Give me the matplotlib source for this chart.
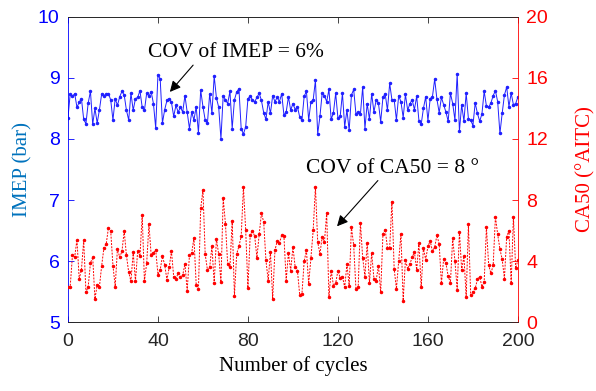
import numpy as np
import matplotlib
matplotlib.use("Agg")
import matplotlib.pyplot as plt

# IMEP per cycle (bar), cycles 0..200
imep = [
    8.34, 8.74, 8.70, 8.74, 8.52, 8.60, 8.66, 8.32, 8.25, 8.59,
    8.78, 8.24, 8.50, 8.26, 8.48, 8.74, 8.71, 8.73, 8.74, 8.64,
    8.31, 8.66, 8.55, 8.69, 8.78, 8.72, 8.47, 8.31, 8.75, 8.47,
    8.66, 8.68, 8.79, 8.52, 8.47, 8.75, 8.70, 8.77, 8.58, 8.18,
    9.05, 8.98, 8.26, 8.48, 8.63, 8.66, 8.60, 8.37, 8.55, 8.44,
    8.52, 8.44,
    8.71, 8.44, 8.17, 8.44, 8.31, 8.53, 8.10, 8.80, 8.53, 8.31,
    8.26, 8.74, 8.42, 9.03, 8.67, 8.52, 8.00, 8.71, 8.64, 8.58,
    8.78, 8.17, 8.64, 8.77, 8.82, 8.17, 8.08, 8.20, 8.66, 8.70,
    8.64, 8.61, 8.68, 8.75, 8.63, 8.43, 8.32, 8.61, 8.42, 8.71,
    8.61, 8.68, 8.61, 8.74, 8.39, 8.44, 8.69, 8.47, 8.58, 8.48,
    8.53, 8.36, 8.31, 8.70, 8.78, 8.31, 8.61, 8.64,
    8.96,
    8.08, 8.37, 8.75, 8.71, 8.61, 8.81, 8.32, 8.43, 8.75, 8.34,
    8.37, 8.75, 8.20, 8.47, 8.14, 8.72, 8.81, 8.41, 8.44, 8.41,
    8.85, 8.17, 8.58, 8.32, 8.74, 8.44, 8.64, 8.59, 8.28, 8.68,
    8.74, 8.47, 8.91, 8.64, 8.64, 8.31, 8.71, 8.61, 8.35, 8.73,
    8.47, 8.58, 8.64, 8.48, 8.70, 8.30, 8.24, 8.50, 8.69, 8.30,
    8.66, 8.69, 8.98,
    8.65, 8.43, 8.68, 8.56, 8.44, 8.29, 8.75, 8.58, 8.31, 9.07,
    8.13, 8.56, 8.29, 8.75, 8.33, 8.31, 8.22, 8.59, 8.42, 8.29,
    8.41, 8.78, 8.54, 8.52, 8.59, 8.71, 8.79, 8.61, 8.09, 8.42,
    8.72, 8.85, 8.53, 8.75, 8.56, 8.58, 8.69,
]

# CA50 per cycle (deg ATDC), cycles 0..200
ca50 = [
    2.29, 2.33, 4.37, 4.26, 5.41, 2.84, 3.43, 5.36, 1.96, 2.33,
    3.87, 4.26, 1.52, 2.46, 2.33, 3.71, 4.88, 5.10, 6.20, 5.98,
    3.71, 2.33, 4.81, 4.26, 4.64, 5.96, 4.37, 3.27, 2.68, 4.59,
    2.68, 4.66, 4.31, 7.01, 2.68, 3.87, 6.42, 4.37, 4.53, 4.75,
    3.12, 3.43, 4.31, 3.76, 2.77, 3.60, 4.64, 2.99, 2.84, 3.21,
    2.95, 3.07,
    3.82, 2.07, 4.37, 4.53, 5.52, 2.46, 2.18, 7.45, 8.66, 4.44,
    3.43, 3.60, 4.97, 2.55, 5.47, 4.44, 2.62, 8.11, 6.46, 3.78,
    3.60, 6.64, 1.74, 4.48, 4.97, 5.63, 8.84, 6.02, 2.24, 5.69,
    6.00, 5.63, 4.22, 5.76, 7.12, 6.57, 4.04, 2.73, 4.59, 1.52,
    4.70, 5.32, 5.19, 5.69, 5.63, 2.73, 4.53, 3.38, 4.92, 3.60,
    3.38, 1.80, 1.85, 4.00, 4.70, 2.51, 4.22, 6.02,
    8.88, 5.25, 4.48, 5.58, 5.25, 7.16, 1.63, 3.38, 2.40, 2.55,
    3.38, 2.90, 2.99, 2.29, 3.78, 2.40, 6.24, 5.03, 2.18, 2.29,
    6.51, 4.22, 2.99, 5.19, 2.55, 4.53, 2.84, 2.73, 3.71, 1.96,
    5.76, 6.07, 4.88, 4.88, 7.89, 3.49, 2.18, 4.00, 5.80, 1.41,
    4.09, 3.49, 3.82, 4.26, 4.59, 3.43, 5.19, 2.29, 4.88, 4.09,
    4.97, 5.32, 4.66,
    4.90, 5.70, 5.11, 2.54, 4.17, 3.85, 3.02, 2.58, 5.49, 4.02,
    2.14, 5.92, 3.41, 4.33, 1.66, 6.40, 1.77, 1.99, 2.21, 2.80,
    2.97, 2.32, 2.64, 6.21, 3.74, 3.19, 3.74, 6.91, 5.75, 4.79,
    4.11, 2.86, 5.60, 5.99, 2.54, 6.91, 3.52, 4.07,
]

cycles = np.arange(len(imep))

x_ticks = [0, 40, 80, 120, 160, 200]
imep_ticks = [5, 6, 7, 8, 9, 10]
ca50_ticks = [0, 4, 8, 12, 16, 20]

blue = "#0000ff"
red = "#ff0000"
gray = "#262626"
serif = ["Liberation Serif", "DejaVu Serif"]
sans = ["Liberation Sans", "DejaVu Sans"]

fig = plt.figure(figsize=(5.96, 3.91), dpi=100)
ax = fig.add_axes([0.114, 0.176, 0.755, 0.781])
ax2 = ax.twinx()

ax.plot(cycles, imep, color="#2020ff", lw=0.7, marker=".", ms=3)
ax2.plot(cycles, ca50, color=red, lw=0.7, ls="--", marker=".", ms=3, dashes=(2, 1.3))

ax.set_xlim(0, 200)
ax.set_ylim(5, 10)
ax2.set_ylim(0, 20)
ax.set_xticks(x_ticks)
ax.set_yticks(imep_ticks)
ax2.set_yticks(ca50_ticks)

for lab in ax.get_xticklabels() + ax.get_yticklabels() + ax2.get_yticklabels():
    lab.set_family(sans)
    lab.set_fontsize(14)

ax.tick_params(axis="x", direction="in", top=True, colors=gray, length=4, width=0.6, pad=8)
ax.tick_params(axis="y", direction="in", colors=blue, length=4, width=0.6, pad=6)
ax2.tick_params(axis="y", direction="in", colors=red, length=4, width=0.6, pad=6)

ax.spines["right"].set_visible(False)
ax2.spines["left"].set_visible(False)
ax.spines["left"].set_color(blue)
ax2.spines["right"].set_color(red)
for a in (ax, ax2):
    a.spines["top"].set_color(gray)
    a.spines["bottom"].set_color(gray)
    for s in a.spines.values():
        s.set_linewidth(0.6)

ax.set_xlabel("Number of cycles", family=serif, fontsize=15, color="black", labelpad=4)
ax.set_ylabel("IMEP (bar)", family=serif, fontsize=15, color="#0072bd", labelpad=4)
ax2.set_ylabel("CA50 (\u00b0AITC)", family=serif, fontsize=15, color=red, labelpad=20)

arrow = dict(arrowstyle="-|>", color="black", lw=0.8, mutation_scale=16,
             shrinkA=0, shrinkB=0)
ax.annotate("COV of IMEP = 6%", xy=(45.3, 8.77), xytext=(35.6, 9.41),
            family=serif, fontsize=15.5, va="center", ha="left",
            arrowprops=dict(arrow, relpos=(0.27, 0.0)))
ax.annotate("COV of CA50 = 8 \u00b0", xy=(119.6, 6.57), xytext=(105.8, 7.52),
            family=serif, fontsize=15.5, va="center", ha="left",
            arrowprops=dict(arrow, relpos=(0.43, 0.0)))

fig.savefig("out.png", dpi=100)
